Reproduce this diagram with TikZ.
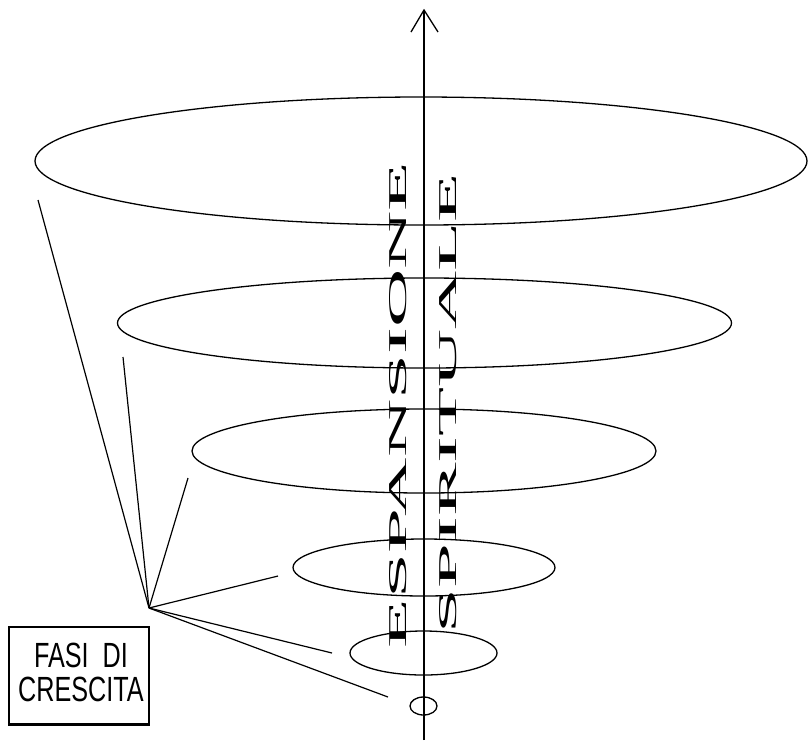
\documentclass[tikz,border=0pt]{standalone}
\usepackage{fontspec}
\setmainfont{Liberation Serif}
\newfontfamily\labelfont{Liberation Sans}
\usetikzlibrary{shapes.geometric}
\begin{document}
\begin{tikzpicture}[x=1pt,y=-1pt,
  ring/.style={draw,ellipse,inner sep=0pt,line width=1.3pt},
  ray/.style={line width=1.2pt},
  axisline/.style={line width=1.3pt},
  framebox/.style={draw,line width=1.3pt,minimum width=140pt,minimum height=97pt,inner sep=0pt},
  fasitext/.style={font=\labelfont\fontsize{35}{34}\selectfont,align=center,xscale=0.72,inner sep=0pt},
  vertword/.style={rotate=90,inner sep=0pt}]
\useasboundingbox (0,0) rectangle (808,740);
\fill[white] (0,0) rectangle (808,740);
% axis
\coordinate (axbot) at (424,740);
\coordinate (axtop) at (424,10);
\coordinate (armL) at (411,32);
\coordinate (armR) at (438,32);
\draw[axisline] (axbot) -- (axtop);
\draw[axisline] (armL) -- (axtop) -- (armR);
% rings
\node[ring,minimum width=772pt,minimum height=128pt] (e1) at (421,161) {};
\node[ring,minimum width=614pt,minimum height=90pt] (e2) at (424.5,323) {};
\node[ring,minimum width=464pt,minimum height=84pt] (e3) at (424,451) {};
\node[ring,minimum width=262pt,minimum height=57pt] (e4) at (424,567.5) {};
\node[ring,minimum width=147pt,minimum height=44pt] (e5) at (423.5,653) {};
\node[ring,minimum width=27pt,minimum height=18pt] (e6) at (423.5,706) {};
% vertical words
\node[vertword] (esp) at (398,405) {\resizebox{486pt}{17pt}{ESPANSIONE}};
\node[vertword] (spi) at (448.5,403) {\resizebox{460pt}{17pt}{SPIRITUALE}};
% rays
\coordinate (hub) at (149,608);
\coordinate (r1) at (38,200);
\coordinate (r2) at (123,357);
\coordinate (r3) at (188,478);
\coordinate (r4) at (278,576);
\coordinate (r5) at (332,653);
\coordinate (r6) at (388,697);
\foreach \r in {r1,r2,r3,r4,r5,r6} \draw[ray] (hub) -- (\r);
% label box
\node[framebox] (box) at (79,675.5) {};
\draw[line width=2.6pt] (box.south west) -- (box.south east);
\node[fasitext] (fasi) at (81,672.5) {FASI\ \ DI\\CRESCITA};
\end{tikzpicture}
\end{document}
